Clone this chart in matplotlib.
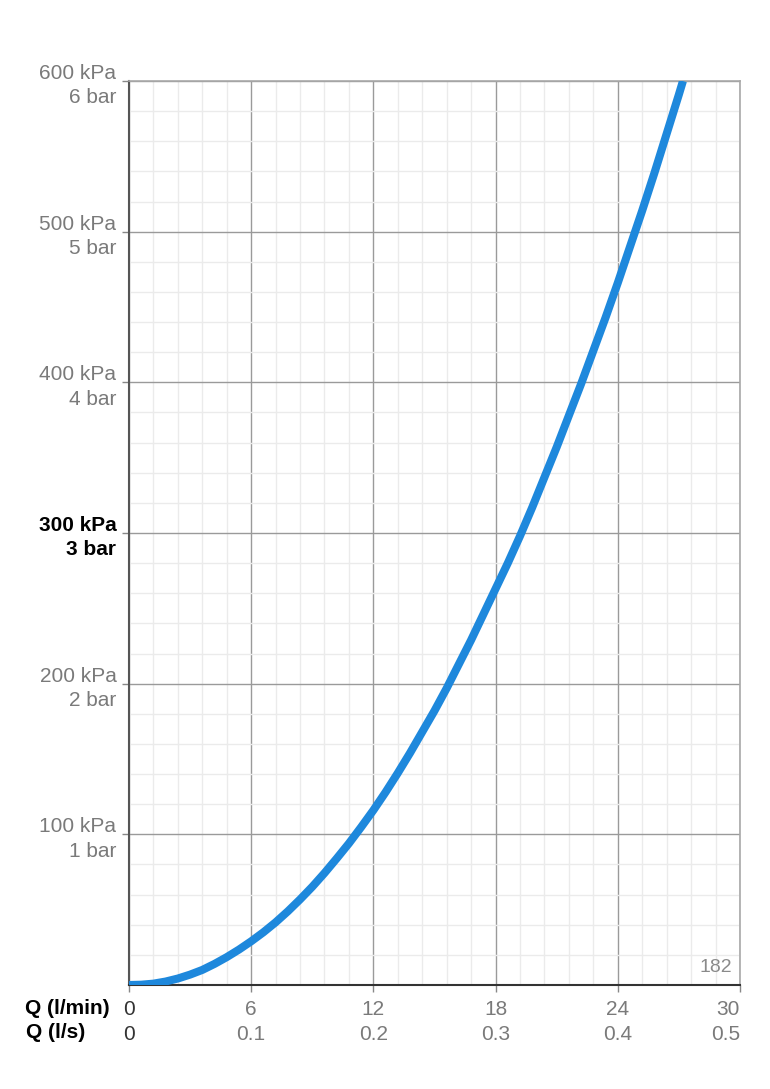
import matplotlib.pyplot as plt
import numpy as np

plt.rcParams['font.family'] = ['Liberation Sans', 'DejaVu Sans']

# Curva caudal / pérdida de carga
q_lmin = [0, 0.6, 1.2, 1.8, 2.4, 3.0, 3.6, 4.2, 4.8, 5.4, 6.0, 6.6, 7.2, 7.8,
          8.4, 9.0, 9.6, 10.2, 10.8, 11.4, 12.0, 12.6, 13.2, 13.8, 14.4, 15.0,
          15.6, 16.2, 16.8, 17.4, 18.0, 18.6, 19.2, 19.8, 20.4, 21.0, 21.6,
          22.2, 22.8, 23.4, 24.0, 24.6, 25.2, 25.8, 26.4, 27.0, 27.2]
p_kpa = [0, 0.2, 0.9, 2.3, 4.3, 6.9, 10.0, 14.0, 18.5, 23.5, 29.0, 35.0, 41.6,
         48.9, 56.8, 65.2, 74.3, 84, 94, 104.8, 116, 128, 140.7, 154, 168, 182,
         197, 213, 229, 246, 263, 280, 298, 317, 337, 357, 378,
         399, 421, 443, 466, 490, 514, 539, 565, 591, 600]

x_ticks = [0, 6, 12, 18, 24, 30]
x_labels_lmin = ['0', '6', '12', '18', '24', '30']
x_labels_ls = ['0', '0.1', '0.2', '0.3', '0.4', '0.5']
y_ticks = [100, 200, 300, 400, 500, 600]
y_labels = ['100 kPa\n1 bar', '200 kPa\n2 bar', '300 kPa\n3 bar',
            '400 kPa\n4 bar', '500 kPa\n5 bar', '600 kPa\n6 bar']

fig = plt.figure(figsize=(7.7, 10.89), dpi=100)
ax = fig.add_axes([0.1675, 0.0955, 0.7935, 0.8301])

ax.set_xlim(0, 30)
ax.set_ylim(0, 600)

# Rejilla
ax.set_xticks(np.arange(0, 30.01, 1.2), minor=True)
ax.set_yticks(np.arange(0, 600.1, 20), minor=True)
ax.grid(which='minor', color='#ebebeb', linewidth=1.0, zorder=0)
ax.grid(which='major', color='#9a9a9a', linewidth=1.0, zorder=1)
ax.tick_params(which='minor', length=0)

# Curva
ax.plot(q_lmin, p_kpa, color='#1e88dc', linewidth=5.8, solid_capstyle='butt',
        solid_joinstyle='round', zorder=5, clip_on=True)

# Ejes
ax.set_xticks(x_ticks)
ax.set_xticklabels([a + '\n' + b for a, b in zip(x_labels_lmin, x_labels_ls)],
                   fontsize=15, color='#7a7a7a', linespacing=1.35)
ax.set_yticks(y_ticks)
ax.set_yticklabels(y_labels, fontsize=15, color='#7a7a7a', linespacing=1.35)
ax.tick_params(axis='y', which='major', length=5, width=1, color='#888888',
               pad=4)
ax.tick_params(axis='x', which='major', length=5, width=1, color='#888888',
               pad=6)

for lbl in ax.get_yticklabels():
    if lbl.get_text().startswith('300'):
        lbl.set_color('black')
        lbl.set_fontweight('bold')
xl = ax.get_xticklabels()
xl[0].set_color('#333333')
xl[-1].set_horizontalalignment('right')
xl[-1].set_x(30.15)

for side in ['top', 'right']:
    ax.spines[side].set_color('#a8a8a8')
    ax.spines[side].set_linewidth(1.2)
ax.spines['left'].set_color('#555555')
ax.spines['left'].set_linewidth(1.5)
ax.spines['bottom'].set_color('#333333')
ax.spines['bottom'].set_linewidth(1.5)

# Etiquetas de las filas del eje X
fig.text(25 / 770, 1 - 1008 / 1089, 'Q (l/min)', fontsize=15, fontweight='bold',
         ha='left', va='center', color='black')
fig.text(26 / 770, 1 - 1032 / 1089, 'Q (l/s)', fontsize=15, fontweight='bold',
         ha='left', va='center', color='black')

ax.text(29.6, 6, '182', fontsize=14, color='#8a8a8a', ha='right', va='bottom')

plt.savefig('out.png', dpi=100, facecolor='white')
plt.close()
